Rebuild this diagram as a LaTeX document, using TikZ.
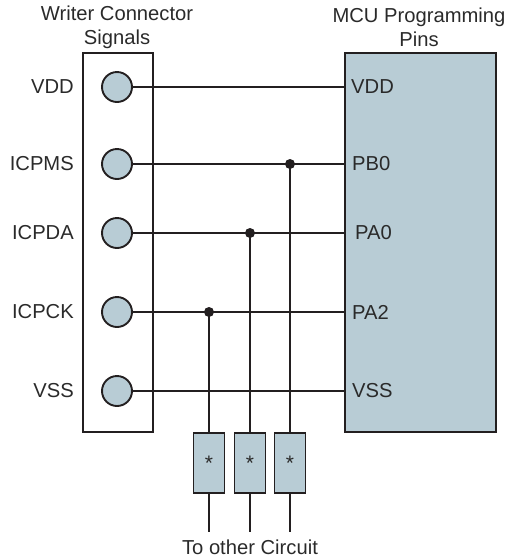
\documentclass[tikz,border=0pt]{standalone}
\usepackage{fontspec}
\setmainfont{Liberation Sans}
\definecolor{pinfill}{HTML}{B8CCD5}
\definecolor{ink}{HTML}{231F20}
\definecolor{txt}{HTML}{2A2A2A}
\begin{document}
\begin{tikzpicture}[x=1pt,y=-1pt,
  lbl/.style={text=txt,font=\fontsize{20.2}{23.5}\selectfont,inner sep=0pt},
  wire/.style={draw=ink,line width=1.9pt},
  pin/.style={circle,draw=ink,fill=pinfill,line width=1.9pt,minimum size=30pt,inner sep=0pt},
  res/.style={rectangle,draw=ink,fill=pinfill,line width=1.9pt,minimum width=31pt,minimum height=60pt,inner sep=0pt,text=txt,font=\fontsize{21}{22}\selectfont},
  junc/.style={circle,fill=ink,minimum size=10pt,inner sep=0pt}]
\useasboundingbox (0,0) rectangle (506,558);
% boxes
\node[draw=ink,line width=1.9pt,minimum width=70pt,minimum height=379pt,inner sep=0pt] (wbox) at (118,242.5) {};
\node[draw=ink,fill=pinfill,line width=1.9pt,minimum width=151pt,minimum height=379pt,inner sep=0pt] (mcu) at (420.5,242.5) {};
% titles
\node[lbl,align=center] (wt) at (117,27.5) {Writer Connector\\Signals};
\node[lbl,align=center] (mt) at (419,27.5) {MCU Programming\\Pins};
% pins
\node[pin] (p1) at (117,87) {};
\node[pin] (p2) at (117,164) {};
\node[pin] (p3) at (117,233) {};
\node[pin] (p4) at (117,312) {};
\node[pin] (p5) at (117,391) {};
% left labels
\node[lbl,anchor=east] (l1) at (74,87) {VDD};
\node[lbl,anchor=east] (l2) at (74,164) {ICPMS};
\node[lbl,anchor=east] (l3) at (74,233) {ICPDA};
\node[lbl,anchor=east] (l4) at (74,312) {ICPCK};
\node[lbl,anchor=east] (l5) at (74,391) {VSS};
% MCU pins
\coordinate (m1) at (345,87);
\coordinate (m2) at (345,164);
\coordinate (m3) at (345,233);
\coordinate (m4) at (345,312);
\coordinate (m5) at (345,391);
\node[lbl,anchor=west] (r1) at (351,87) {VDD};
\node[lbl,anchor=west] (r2) at (352,164) {PB0};
\node[lbl,anchor=west] (r3) at (355,233) {PA0};
\node[lbl,anchor=west] (r4) at (352,312) {PA2};
\node[lbl,anchor=west] (r5) at (352,391) {VSS};
% horizontal wires
\draw[wire] (p1.east) -- (m1);
\draw[wire] (p2.east) -- (m2);
\draw[wire] (p3.east) -- (m3);
\draw[wire] (p4.east) -- (m4);
\draw[wire] (p5.east) -- (m5);
% junctions
\node[junc] (j2) at (290,164) {};
\node[junc] (j3) at (250,233) {};
\node[junc] (j4) at (209,312) {};
% resistors
\node[res] (ra) at (209,463) {*};
\node[res] (rb) at (250,463) {*};
\node[res] (rc) at (290,463) {*};
\draw[wire] (j4.center) -- (ra.north);
\draw[wire] (j3.center) -- (rb.north);
\draw[wire] (j2.center) -- (rc.north);
\coordinate (ea) at (209,532);
\coordinate (eb) at (250,532);
\coordinate (ec) at (290,532);
\draw[wire] (ra.south) -- (ea);
\draw[wire] (rb.south) -- (eb);
\draw[wire] (rc.south) -- (ec);
\node[lbl] (oc) at (250,547) {To other Circuit};
\end{tikzpicture}
\end{document}
